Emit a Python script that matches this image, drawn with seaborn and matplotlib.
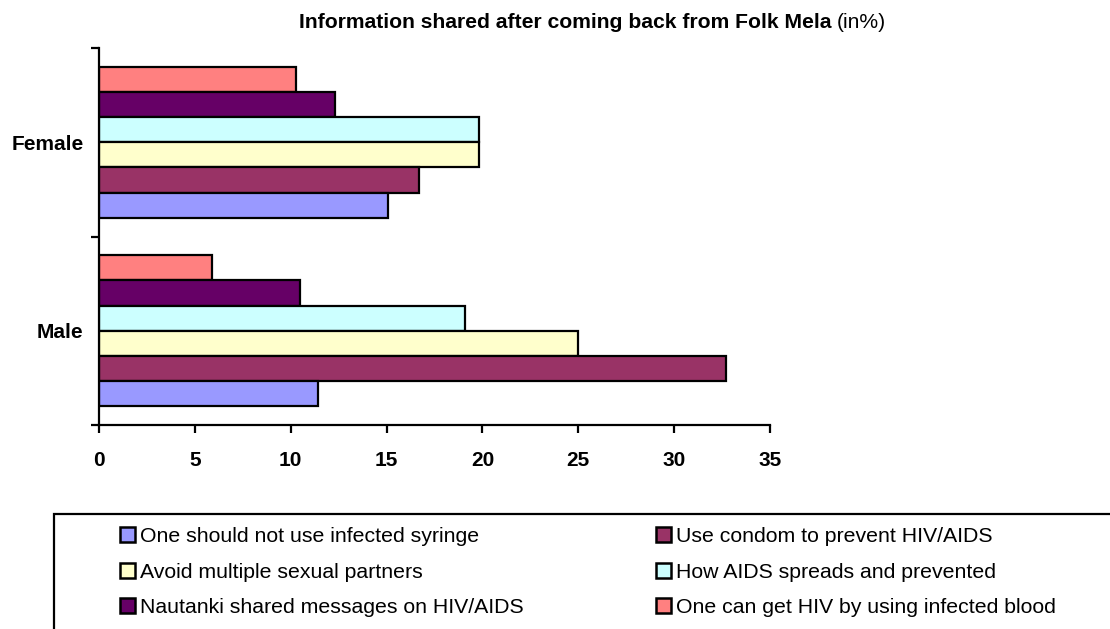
import matplotlib
matplotlib.use('Agg')
import matplotlib.pyplot as plt
import seaborn as sns
import pandas as pd
from matplotlib.patches import Patch, Rectangle

genders = ["Female", "Male"]
series = ["One should not use infected syringe",
          "Use condom to prevent HIV/AIDS",
          "Avoid multiple sexual partners",
          "How AIDS spreads and prevented",
          "Nautanki shared messages on HIV/AIDS",
          "One can get HIV by using infected blood"]
female = [15.1, 16.7, 19.8, 19.8, 12.3, 10.3]
male = [11.4, 32.7, 25.0, 19.1, 10.5, 5.9]
colors = ["#9999FF", "#993366", "#FFFFCC", "#CCFFFF", "#660066", "#FF8080"]
x_ticks = [0, 5, 10, 15, 20, 25, 30, 35]

sns.set_theme(style='white')
plt.rcParams['font.family'] = ['Liberation Sans', 'DejaVu Sans']

W, H = 1110, 629
fig = plt.figure(figsize=(W / 100, H / 100), dpi=100)
ax = fig.add_axes([99 / W, 1 - 425 / H, (770 - 99) / W, (425 - 48) / H])

rows = []
for g, vals in zip(genders, [female, male]):
    for s, v in zip(series, vals):
        rows.append({'gender': g, 'series': s, 'value': v})
df = pd.DataFrame(rows)
palette = dict(zip(series, colors))

sns.barplot(data=df, x='value', y='gender', hue='series', order=genders,
            hue_order=series[::-1], palette=palette, orient='h', width=0.8,
            edgecolor='black', linewidth=1.6, saturation=1, legend=False,
            errorbar=None, ax=ax)

ax.set_xlim(0, 35)
ax.set_ylim(1.5, -0.5)
ax.set_xlabel('')
ax.set_ylabel('')
for s in ['top', 'right']:
    ax.spines[s].set_visible(False)
for s in ['left', 'bottom']:
    ax.spines[s].set_color('black')
    ax.spines[s].set_linewidth(1.6)

ax.set_xticks(x_ticks)
ax.set_xticklabels([str(t) for t in x_ticks], fontsize=15, fontweight='bold')
ax.tick_params(axis='x', bottom=True, length=5.5, width=1.6, color='black',
               direction='out', pad=13, labelcolor='black')

ax.set_yticks([-0.5, 0.5, 1.5])
ax.set_yticklabels([])
ax.set_yticks([0, 1], minor=True)
ax.set_yticklabels(genders, minor=True, fontsize=15, fontweight='bold')
ax.tick_params(axis='y', which='major', left=True, length=5.5, width=1.6,
               color='black', direction='out')
ax.tick_params(axis='y', which='minor', left=True, length=0, pad=11,
               labelcolor='black')

# Title: bold part + regular part
t1 = fig.text(299 / W, 1 - 23 / H,
              "Information shared after coming back from Folk Mela",
              fontsize=15.2, fontweight='bold', ha='left', va='center', color='black')
fig.canvas.draw()
bb = t1.get_window_extent(renderer=fig.canvas.get_renderer())
fig.text(bb.x1 / W + 5 / W, 1 - 23 / H, "(in%)", fontsize=15.2, ha='left',
         va='center', color='black')

# Legend
handles = [Patch(facecolor=c, edgecolor='black', linewidth=1.8) for c in colors]
order = [0, 2, 4, 1, 3, 5]
fig.legend([handles[i] for i in order], [series[i] for i in order], ncol=2,
           loc='upper left', bbox_to_anchor=(120 / W, 1 - 527 / H),
           frameon=False, fontsize=15.3, handlelength=0.7, handleheight=0.7,
           handletextpad=0.22, columnspacing=6.25, labelspacing=0.78,
           borderaxespad=0, borderpad=0, labelcolor='black')
fig.add_artist(Rectangle((54 / W, -0.1), 1.2, 0.1 + (629 - 514) / H,
                         transform=fig.transFigure, fill=False,
                         edgecolor='black', linewidth=1.6))

fig.savefig('out.png', dpi=100)
